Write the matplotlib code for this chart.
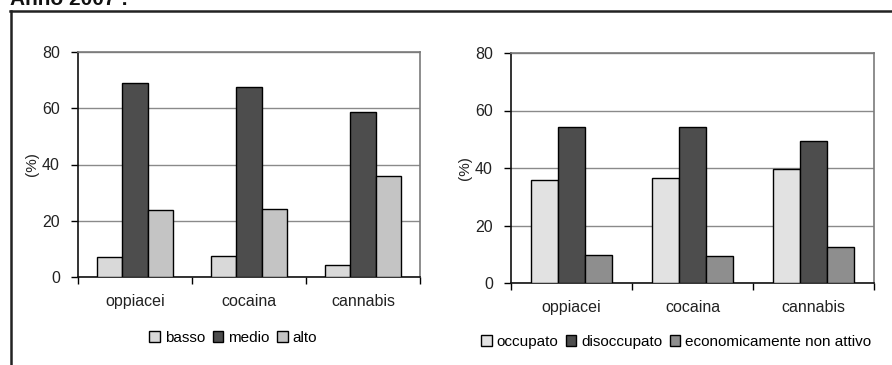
import matplotlib
matplotlib.use("Agg")
import matplotlib.pyplot as plt
from matplotlib.lines import Line2D
import numpy as np

plt.rcParams['font.family'] = ['Liberation Sans', 'DejaVu Sans']

categories = ["oppiacei", "cocaina", "cannabis"]

# Livello di istruzione
edu_labels = ["basso", "medio", "alto"]
edu_values = [
    [7.0, 7.6, 4.4],     # basso
    [69.0, 67.4, 58.6],  # medio
    [23.9, 24.3, 35.8],  # alto
]
edu_colors = ["#d9d9d9", "#4d4d4d", "#c4c4c4"]

# Condizione occupazionale
job_labels = ["occupato", "disoccupato", "economicamente non attivo"]
job_values = [
    [35.7, 36.6, 39.8],  # occupato
    [54.3, 54.4, 49.4],  # disoccupato
    [9.7, 9.3, 12.4],    # economicamente non attivo
]
job_colors = ["#e2e2e2", "#4d4d4d", "#8e8e8e"]

yticks = [0, 20, 40, 60, 80]

W, H = 892, 365
fig = plt.figure(figsize=(W / 100, H / 100), dpi=100)

# Title, partly above the page edge
fig.text(10 / W, 1 - 5 / H, "Anno 2007 :", fontsize=15, fontweight="bold",
         ha="left", va="baseline", color="#111111")

# Frame around the charts
fig.add_artist(Line2D([10 / W, 1.0], [1 - 11 / H, 1 - 11 / H],
                      transform=fig.transFigure, color="#222222", lw=1.8))
fig.add_artist(Line2D([11 / W, 11 / W], [1 - 11 / H, 0.0],
                      transform=fig.transFigure, color="#222222", lw=1.8))


def draw_panel(rect, values, labels, colors, legend_xy):
    ax = fig.add_axes(rect)
    n = len(values)
    width = 0.222
    x = np.arange(len(categories))
    for i, (vals, lab, col) in enumerate(zip(values, labels, colors)):
        ax.bar(x + (i - (n - 1) / 2) * width, vals, width, color=col,
               edgecolor="black", linewidth=1.0, label=lab, zorder=3)
    ax.set_xlim(-0.5, len(categories) - 0.5)
    ax.set_ylim(0, 80)
    ax.set_yticks(yticks)
    ax.set_yticklabels([str(v) for v in yticks], fontsize=11.5, color="#222222")
    ax.yaxis.grid(True, color="#8a8a8a", linewidth=1.0, zorder=0)
    ax.set_axisbelow(True)
    # Category labels centred, ticks between categories
    ax.set_xticks(np.arange(-0.5, len(categories), 1.0))
    ax.set_xticklabels([])
    ax.set_xticks(x, minor=True)
    ax.set_xticklabels(categories, minor=True, fontsize=11.5, color="#222222")
    ax.tick_params(axis="x", which="minor", length=0, pad=12)
    ax.tick_params(axis="x", which="major", length=5, width=1.0, direction="out")
    ax.tick_params(axis="y", length=5, width=1.0, direction="out", pad=8)
    for s in ("left", "bottom"):
        ax.spines[s].set_color("#111111")
        ax.spines[s].set_linewidth(1.2)
    for s in ("top", "right"):
        ax.spines[s].set_color("#7a7a7a")
        ax.spines[s].set_linewidth(1.2)
    ax.set_ylabel("(%)", fontsize=11, labelpad=2, color="#222222")
    ax.legend(loc="center", bbox_to_anchor=legend_xy, bbox_transform=fig.transFigure,
              ncol=n, frameon=False, fontsize=11, handlelength=0.7,
              handleheight=0.7, handletextpad=0.3, columnspacing=0.5)
    return ax


draw_panel([78 / W, 1 - 277 / H, 342 / W, 225 / H], edu_values, edu_labels,
           edu_colors, (233 / W, 1 - 338 / H))
draw_panel([511 / W, 1 - 283 / H, 363 / W, 230 / H], job_values, job_labels,
           job_colors, (676 / W, 1 - 342 / H))

fig.savefig("out.png", dpi=100)
